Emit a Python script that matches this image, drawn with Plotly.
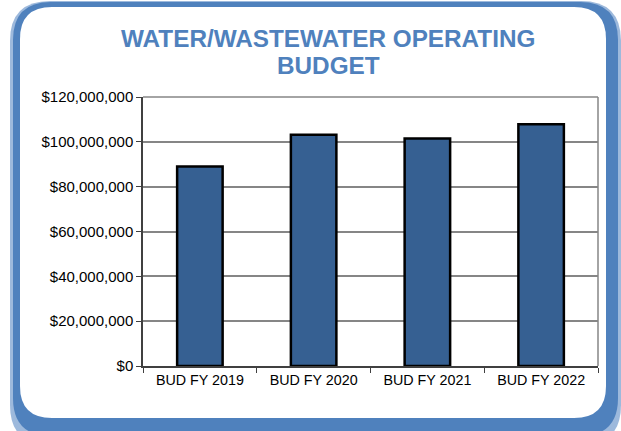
import plotly.graph_objects as go

# datos del gráfico
anios = ["BUD FY 2019", "BUD FY 2020", "BUD FY 2021", "BUD FY 2022"]
presupuesto = [89000000, 103200000, 101500000, 107800000]
titulo_1 = "WATER/WASTEWATER OPERATING"
titulo_2 = "BUDGET"

W, H = 621, 431
L, R, T, B = 143, 23, 97, 65
PW, PH = W - L - R, H - T - B


def px_x(x):
    return (x - L) / PW


def px_y(y):
    return (H - B - y) / PH


def caja_redondeada(x0, y0, x1, y1, r):
    # rectangulo con esquinas redondeadas en coordenadas de pixel -> paper
    pts = [
        ("M", x0 + r, y0), ("L", x1 - r, y0), ("Q", x1, y0, x1, y0 + r),
        ("L", x1, y1 - r), ("Q", x1, y1, x1 - r, y1), ("L", x0 + r, y1),
        ("Q", x0, y1, x0, y1 - r), ("L", x0, y0 + r), ("Q", x0, y0, x0 + r, y0),
    ]
    partes = []
    for p in pts:
        cmd = p[0]
        coords = p[1:]
        s = []
        for i in range(0, len(coords), 2):
            s.append(f"{px_x(coords[i]):.5f},{px_y(coords[i + 1]):.5f}")
        partes.append(cmd + " ".join(s))
    return " ".join(partes) + " Z"


fig = go.Figure()

fig.add_trace(
    go.Bar(
        x=anios,
        y=presupuesto,
        marker=dict(color="#366092", line=dict(color="#000000", width=2.5)),
        width=0.4,
        hoverinfo="x+y",
    )
)

# marco azul con sombra
fig.add_shape(type="path", path=caja_redondeada(10, 1, 621, 445, 40),
              xref="paper", yref="paper", fillcolor="#9DB9DC", line_width=0, layer="below")
fig.add_shape(type="path", path=caja_redondeada(13, 2, 618, 436, 38),
              xref="paper", yref="paper", fillcolor="#4F81BD", line_width=0, layer="below")
fig.add_shape(type="path", path=caja_redondeada(20, 7, 606, 418, 32),
              xref="paper", yref="paper", fillcolor="#FFFFFF", line_width=0, layer="below")

fig.add_annotation(text=titulo_1, x=px_x(328), y=px_y(38), xref="paper", yref="paper",
                   showarrow=False, xanchor="center", yanchor="middle",
                   font=dict(family="Liberation Sans, Arial", size=24.3, color="#4F81BD", weight="bold"))
fig.add_annotation(text=titulo_2, x=px_x(328), y=px_y(65), xref="paper", yref="paper",
                   showarrow=False, xanchor="center", yanchor="middle",
                   font=dict(family="Liberation Sans, Arial", size=24.3, color="#4F81BD", weight="bold"))

fig.update_layout(
    width=W,
    height=H,
    margin=dict(l=L, r=R, t=T, b=B),
    paper_bgcolor="#FFFFFF",
    plot_bgcolor="rgba(0,0,0,0)",
    showlegend=False,
    font=dict(family="Liberation Sans, Arial", size=14.3, color="#000000"),
)

fig.update_yaxes(
    range=[0, 120000000],
    dtick=20000000,
    tickprefix="$",
    tickformat=",.0f",
    tickfont=dict(size=15),
    showgrid=True,
    gridcolor="#868686",
    gridwidth=1.5,
    showline=True,
    linecolor="#404040",
    linewidth=1.5,
    mirror=False,
    ticks="outside",
    ticklen=5,
    tickcolor="#404040",
    zeroline=False,
)
fig.update_xaxes(
    showline=True,
    linecolor="#404040",
    linewidth=1.5,
    ticks="outside",
    ticklen=5,
    tickcolor="#404040",
    tickson="boundaries",
    showgrid=False,
)

# borde derecho/superior del area de trazado
fig.add_shape(type="line", xref="paper", yref="paper", x0=1, x1=1, y0=0, y1=1,
              line=dict(color="#868686", width=1.5))
fig.add_shape(type="line", xref="paper", yref="paper", x0=0, x1=1, y0=1, y1=1,
              line=dict(color="#868686", width=1.5))

# sin margen del body para que la figura ocupe toda la ventana
fig.write_html("out.html", config={"displayModeBar": False},
               post_script="document.body.style.margin='0';")
